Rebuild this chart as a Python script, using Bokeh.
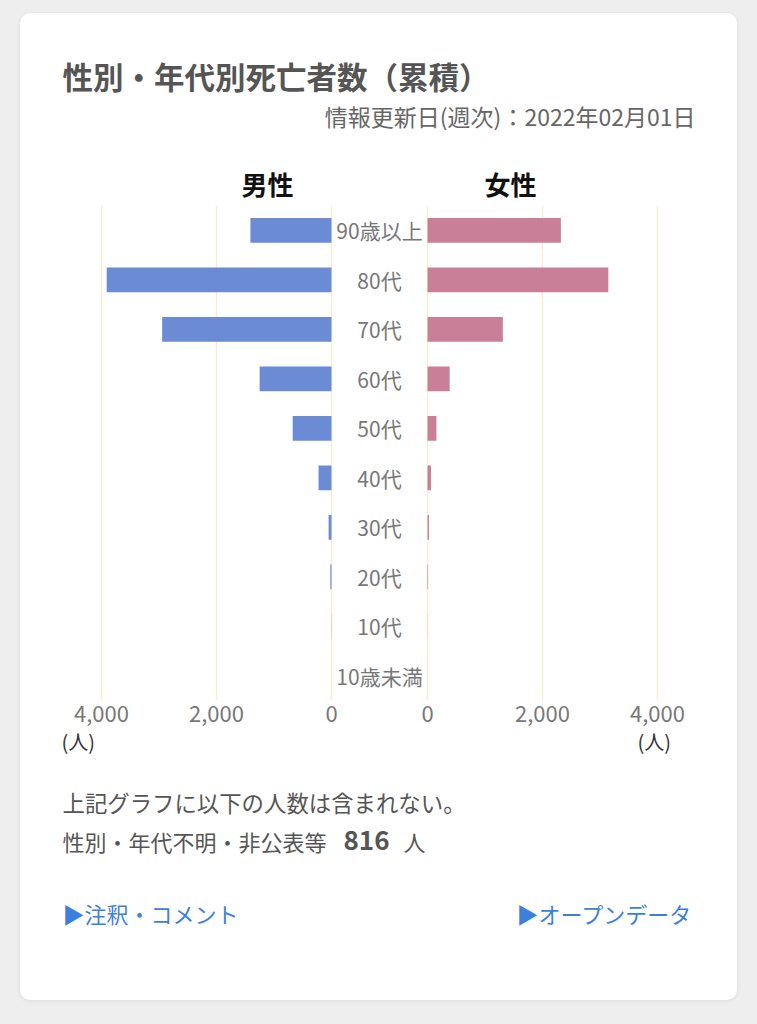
from bokeh.plotting import figure
from bokeh.models import Range1d, FactorRange, FixedTicker, NumeralTickFormatter, GlobalInlineStyleSheet
from bokeh.layouts import column, row
from bokeh.core.properties import value
from bokeh.embed import file_html
from bokeh.resources import INLINE

FONT = "Noto Sans CJK JP"

# ---------------- data ----------------
title_text = "性別・年代別死亡者数（累積）"
updated_text = "情報更新日(週次)：2022年02月01日"
male_label = "男性"
female_label = "女性"
categories = ["90歳以上", "80代", "70代", "60代", "50代", "40代", "30代", "20代", "10代", "10歳未満"]
male_deaths = [1410, 3910, 2945, 1250, 675, 225, 50, 20, 3, 0]
female_deaths = [2320, 3145, 1310, 385, 155, 60, 25, 10, 2, 0]
x_ticks = [0, 2000, 4000]
x_max = 4000
unit_label = "(人)"
note_line1 = "上記グラフに以下の人数は含まれない。"
note_line2 = "性別・年代不明・非公表等"
unknown_count = "816"
unknown_unit = "人"
link_left = "▶注釈・コメント"
link_right = "▶オープンデータ"

# ---------------- styles ----------------
MALE_COLOR = "#6b8bd5"
FEMALE_COLOR = "#c97f98"
GRID_COLOR = "#f5efcf"
CARD_W = 717
HEAD_H = 192
FRAME_H = 495
AXIS_H = 34
FOOT_OVERLAP = 14
FOOT_H = 280
PAD = 35  # ~2px of range padding so edge gridlines stay visible
INNER = 8  # room for the "0" tick labels beside the centre column


def text_fig(w, h):
    p = figure(width=w, height=h, x_range=Range1d(0, w), y_range=Range1d(h, 0),
               output_backend="svg", toolbar_location=None, min_border=0,
               x_axis_location=None, y_axis_location=None,
               border_fill_color=None, background_fill_color=None,
               outline_line_color=None)
    p.grid.visible = False
    return p


def put(p, x, y, t, size, color, align="left", bold=False):
    p.text(x=[x], y=[y], text=[t], text_font=value(FONT), text_font_size=size,
           text_font_style="bold" if bold else "normal", text_color=color,
           text_align=align, text_baseline="middle")


# header
head = text_fig(CARD_W, HEAD_H)
put(head, 42, 62, title_text, "30.5px", "#555555", bold=True)
put(head, 675, 102, updated_text, "23px", "#666666", align="right")
put(head, 247, 170, male_label, "26px", "#111111", align="center", bold=True)
put(head, 490, 170, female_label, "26px", "#111111", align="center", bold=True)

y_range = FactorRange(factors=list(reversed(categories)))


def bar_fig(x_range, left_border, right_border):
    p = figure(frame_width=234, frame_height=FRAME_H, x_range=x_range, y_range=y_range,
               output_backend="svg", toolbar_location=None,
               min_border_left=left_border, min_border_right=right_border,
               min_border_top=0, min_border_bottom=AXIS_H,
               y_axis_location=None,
               border_fill_color=None, background_fill_color=None,
               outline_line_color=None)
    p.xaxis.ticker = FixedTicker(ticks=x_ticks)
    p.xaxis.formatter = NumeralTickFormatter(format="0,0")
    p.xaxis.axis_line_color = None
    p.xaxis.major_tick_line_color = None
    p.xaxis.minor_tick_line_color = None
    p.xaxis.major_tick_out = 0
    p.xaxis.major_tick_in = 0
    p.xaxis.major_label_standoff = 5
    p.xaxis.major_label_text_font = FONT
    p.xaxis.major_label_text_font_size = "22px"
    p.xaxis.major_label_text_color = "#777777"
    p.xgrid.ticker = FixedTicker(ticks=x_ticks)
    p.xgrid.grid_line_color = GRID_COLOR
    p.xgrid.grid_line_width = 1.5
    p.ygrid.visible = False
    return p


male = bar_fig(Range1d(x_max + PAD, -PAD), 79, INNER)
male.hbar(y=categories, left=0, right=male_deaths, height=0.5,
          fill_color=MALE_COLOR, line_color=None)

female = bar_fig(Range1d(-PAD, x_max + PAD), INNER, 78)
female.hbar(y=categories, left=0, right=female_deaths, height=0.5,
            fill_color=FEMALE_COLOR, line_color=None)

mid = figure(frame_width=92, frame_height=FRAME_H, x_range=Range1d(0, 1), y_range=y_range,
             output_backend="svg", toolbar_location=None,
             min_border_left=0, min_border_right=0, min_border_top=0, min_border_bottom=AXIS_H,
             x_axis_location=None, y_axis_location=None,
             border_fill_color=None, background_fill_color=None, outline_line_color=None)
mid.margin = (0, -INNER, 0, -INNER)
mid.grid.visible = False
mid.text(x=[0.5] * len(categories), y=categories, text=categories,
         text_font=value(FONT), text_font_size="21px", text_color="#777777",
         text_align="center", text_baseline="middle")

# footer
foot = text_fig(CARD_W, FOOT_H)
foot.margin = (-FOOT_OVERLAP, 0, 0, 0)
put(foot, 41, 21, unit_label, "20px", "#333333")
put(foot, 617, 21, unit_label, "20px", "#333333")
put(foot, 42, 81, note_line1, "22.4px", "#555555")
put(foot, 42, 120, note_line2, "22px", "#555555")
put(foot, 323, 120, unknown_count, "26px", "#555555", bold=True)
put(foot, 383, 120, unknown_unit, "22px", "#555555")
put(foot, 42, 192, link_left, "22px", "#3d7fdc")
put(foot, 672, 192, link_right, "22px", "#3d7fdc", align="right")

card = column(head, row(male, mid, female), foot, margin=(13, 12, 24, 20),
              styles={"background-color": "white", "border-radius": "10px",
                      "box-shadow": "0 1px 4px rgba(0,0,0,0.08)", "overflow": "hidden"})
root = column(card, styles={"background-color": "#eeeeee"},
              stylesheets=[GlobalInlineStyleSheet(css="html, body { background-color: #eeeeee; }")])

open("out.html", "w").write(file_html(root, INLINE))
